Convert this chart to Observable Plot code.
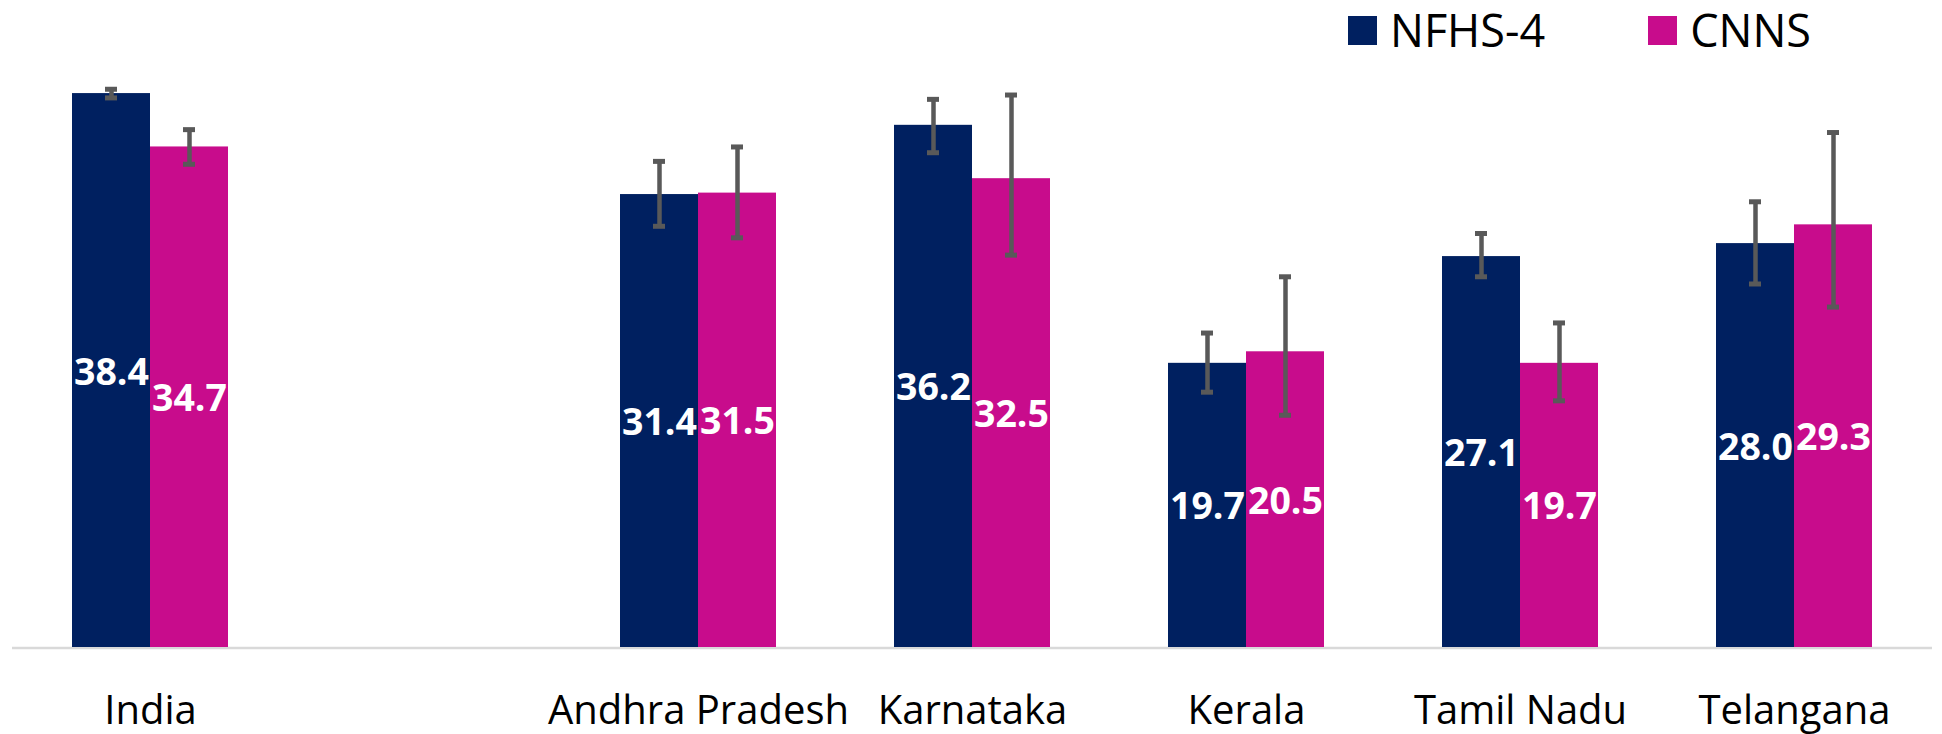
<!DOCTYPE html>
<html>
<head>
<meta charset="utf-8">
<script src="https://cdn.jsdelivr.net/npm/d3@7"></script>
<script src="https://cdn.jsdelivr.net/npm/@observablehq/plot@0.6"></script>
<style>
  html, body { margin: 0; padding: 0; background: #fff; }
  body { width: 1942px; height: 734px; overflow: hidden; font-family: "Open Sans", sans-serif; }
  #legend { height: 60px; display: flex; align-items: center; padding-left: 1348px; box-sizing: border-box; }
  .item { display: flex; align-items: center; margin-right: 103px; font-size: 45px; line-height: 60px; color: #000; }
  .sw { width: 29px; height: 29px; margin-right: 13px; }
  #chart svg { display: block; }
</style>
</head>
<body>
<div id="legend"></div>
<div id="chart"></div>
<script>
// ---- data ----
const categories = ["India", "Andhra Pradesh", "Karnataka", "Kerala", "Tamil Nadu", "Telangana"];
const series = ["NFHS-4", "CNNS"];
const colors = ["#002060", "#c80c8c"];
const nfhs4 = [38.4, 31.4, 36.2, 19.7, 27.1, 28.0];
const nfhs4Low = [38.1, 29.2, 34.3, 17.7, 25.7, 25.2];
const nfhs4High = [38.7, 33.7, 38.0, 21.8, 28.7, 30.9];
const cnns = [34.7, 31.5, 32.5, 20.5, 19.7, 29.3];
const cnnsLow = [33.5, 28.4, 27.2, 16.1, 17.1, 23.6];
const cnnsHigh = [35.9, 34.7, 38.3, 25.7, 22.5, 35.7];

// slot order: a blank gap after India
const slots = [categories[0], " ", ...categories.slice(1)];

const rows = [];
categories.forEach((c, i) => {
  rows.push({category: c, series: series[0], value: nfhs4[i], low: nfhs4Low[i], high: nfhs4High[i]});
  rows.push({category: c, series: series[1], value: cnns[i], low: cnnsLow[i], high: cnnsHigh[i]});
});

// ---- legend ----
const legend = d3.select("#legend");
series.forEach((s, i) => {
  const it = legend.append("div").attr("class", "item");
  it.append("div").attr("class", "sw").style("background", colors[i]);
  it.append("span").text(s);
});

// ---- chart ----
const plot = Plot.plot({
  width: 1942,
  height: 674,
  marginTop: 10,
  marginBottom: 87,
  marginLeft: 12,
  marginRight: 10,
  style: {fontFamily: "Open Sans", background: "#fff", overflow: "visible"},
  fx: {domain: slots, paddingInner: 0.4315, paddingOuter: 0.2157, axis: null, label: null},
  x: {domain: series, padding: 0, axis: null, label: null},
  y: {domain: [0, 40], axis: null, label: null},
  color: {domain: series, range: colors},
  marks: [
    Plot.barY(rows, {fx: "category", x: "series", y: "value", fill: "series"}),
    Plot.ruleX(rows, {fx: "category", x: "series", y1: "low", y2: "high", stroke: "#595959", strokeWidth: 4.5}),
    Plot.tickY(rows, {fx: "category", x: "series", y: "low", stroke: "#595959", strokeWidth: 5, insetLeft: 33, insetRight: 33}),
    Plot.tickY(rows, {fx: "category", x: "series", y: "high", stroke: "#595959", strokeWidth: 5, insetLeft: 33, insetRight: 33}),
    Plot.text(rows, {fx: "category", x: "series", y: d => d.value / 2, text: d => d3.format(".1f")(d.value),
      fill: "white", fontWeight: 700, fontSize: 37.5, fontFamily: "Open Sans", dy: 2}),
    Plot.text(categories, {fx: d => d, text: d => d, frameAnchor: "bottom", lineAnchor: "bottom", dy: 76,
      fontSize: 40, fill: "#000", fontFamily: "Open Sans"})
  ]
});

// baseline across the whole plot width, placed via the plot's own scales
const fxRange = plot.scale("fx").range;
const y0 = plot.scale("y").apply(0);
d3.select(plot).insert("line", "g")
  .attr("x1", fxRange[0]).attr("x2", fxRange[1])
  .attr("y1", y0 + 1).attr("y2", y0 + 1)
  .attr("stroke", "#d9d9d9").attr("stroke-width", 2.5);

document.getElementById("chart").appendChild(plot);
</script>
</body>
</html>
